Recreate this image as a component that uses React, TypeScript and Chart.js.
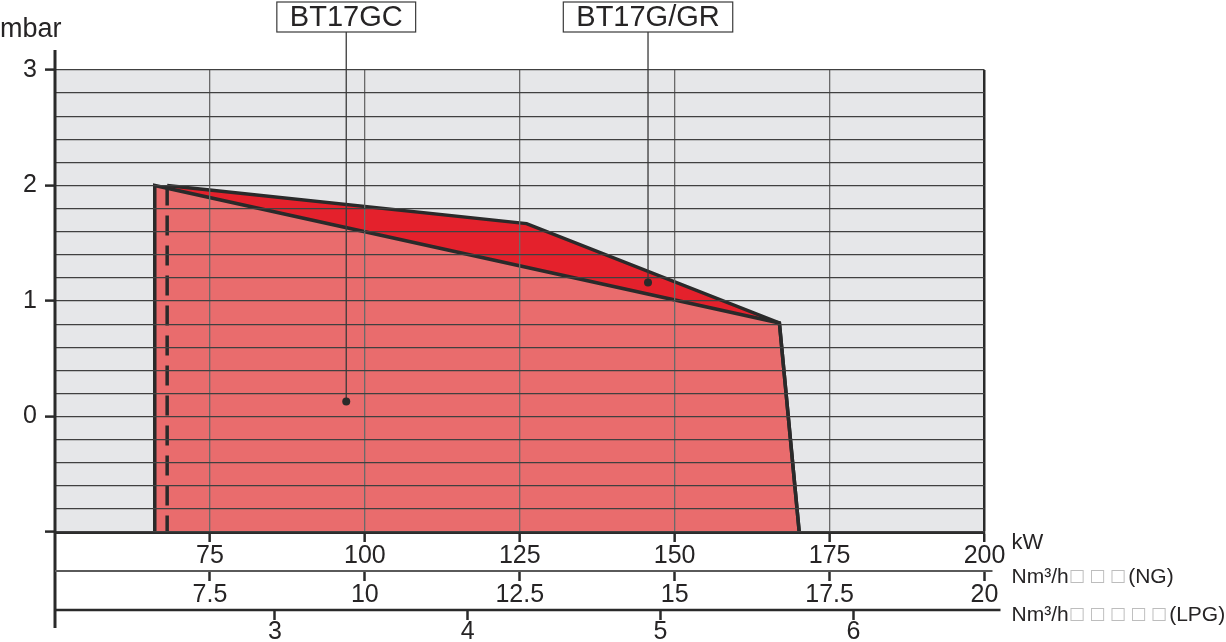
import React, { useEffect, useRef } from 'react';
import { Chart, registerables } from 'chart.js';

Chart.register(...registerables);

// kW axis (main x axis)
const KW_MIN = 50;
const KW_MAX = 200;
const KW_TICKS = [75, 100, 125, 150, 175, 200];

// Nm3/h natural gas axis
const NG_MIN = 5;
const NG_MAX = 20;
const NG_TICKS = [7.5, 10, 12.5, 15, 17.5, 20];

// Nm3/h LPG axis
const LPG_MIN = 1.86;
const LPG_MAX = 6.68;
const LPG_TICKS = [3, 4, 5, 6];

// mbar axis
const Y_MIN = -1;
const Y_MAX = 3;
const Y_STEP = 0.2;
const Y_LABELS = [0, 1, 2, 3];

// working field BT17GC (kW / mbar)
const GC_KW = [66.1, 66.1, 166.9, 170.1];
const GC_MBAR = [-1, 2.0, 0.81, -1];

// working field BT17G/GR (kW / mbar)
const GR_KW = [68.1, 126.1, 166.9, 170.1];
const GR_MBAR = [2.0, 1.67, 0.81, -1];
const GR_EDGE_KW = [68.1, 68.1];
const GR_EDGE_MBAR = [2.0, -1];

// callouts
const MODELS = ['BT17GC', 'BT17G/GR'];
const MODEL_KW = [97.0, 145.7];
const MODEL_MBAR = [0.13, 1.16];

const FONT = '"Liberation Sans", Arial, sans-serif';
const INK = '#262425';
const OUTLINE = '#2a2a2a';
const LIGHT_RED = '#e96c6d';
const DARK_RED = '#e4212c';
const PLOT_BG = '#e6e7e9';

const toPoints = (xs: number[], ys: number[]) => xs.map((x, i) => ({ x, y: ys[i] }));

const extras = {
  id: 'extras',
  beforeDraw(chart: any) {
    const { ctx, chartArea: a } = chart;
    ctx.save();
    ctx.fillStyle = PLOT_BG;
    ctx.fillRect(a.left, a.top, a.right - a.left, a.bottom - a.top);
    ctx.restore();
  },
  afterDraw(chart: any) {
    const { ctx, chartArea: a, scales } = chart;
    const { x, y, ng, lpg } = scales;
    const line = (x1: number, y1: number, x2: number, y2: number) => {
      ctx.beginPath();
      ctx.moveTo(x1, y1);
      ctx.lineTo(x2, y2);
      ctx.stroke();
    };
    ctx.save();

    // axis lines
    ctx.strokeStyle = OUTLINE;
    ctx.lineWidth = 3;
    line(a.left, a.top - 20, a.left, lpg.top + 18);
    ctx.strokeStyle = '#5a5a5a';
    ctx.lineWidth = 2;
    line(a.left, ng.top, a.right + 8, ng.top);
    ctx.strokeStyle = OUTLINE;
    ctx.lineWidth = 2.4;
    line(a.left, lpg.top, a.right + 16, lpg.top);

    // unit labels
    ctx.fillStyle = INK;
    ctx.textBaseline = 'middle';
    ctx.textAlign = 'left';
    ctx.font = `27px ${FONT}`;
    ctx.fillText('mbar', 0, 30);

    const ux = a.right + 27;
    ctx.font = `22px ${FONT}`;
    ctx.fillText('kW', ux, x.top + 11);

    const unitRow = (yy: number, boxes: number, tail: string) => {
      ctx.font = `21px ${FONT}`;
      ctx.fillStyle = INK;
      ctx.fillText('Nm³/h', ux, yy);
      const bx = ux + ctx.measureText('Nm³/h').width;
      ctx.font = `17px "DejaVu Sans"`;
      ctx.fillStyle = '#bdbdbd';
      for (let i = 0; i < boxes; i++) ctx.fillText('□', bx + i * 20.5, yy);
      ctx.font = `21px ${FONT}`;
      ctx.fillStyle = INK;
      ctx.fillText(tail, bx + boxes * 20.5 - 2, yy);
    };
    unitRow(ng.top + 6, 3, '(NG)');
    unitRow(lpg.top + 5, 5, '(LPG)');

    // callouts
    MODELS.forEach((name, i) => {
      const px = x.getPixelForValue(MODEL_KW[i]);
      const py = y.getPixelForValue(MODEL_MBAR[i]);
      ctx.font = `29px ${FONT}`;
      const w = ctx.measureText(name).width + 26;
      const top = 2;
      const h = 30;
      ctx.strokeStyle = '#3a3a3a';
      ctx.lineWidth = 1.2;
      ctx.fillStyle = '#ffffff';
      ctx.fillRect(px - w / 2, top, w, h);
      ctx.strokeRect(px - w / 2, top, w, h);
      ctx.lineWidth = 1.3;
      line(px, top + h, px, py);
      ctx.fillStyle = OUTLINE;
      ctx.beginPath();
      ctx.arc(px, py, 4, 0, Math.PI * 2);
      ctx.fill();
      ctx.fillStyle = INK;
      ctx.textAlign = 'center';
      ctx.fillText(name, px, top + h / 2 + 1);
    });

    ctx.restore();
  },
};

const tickFont = { family: FONT, size: 25, lineHeight: 1 };

const App: React.FC = () => {
  const canvasRef = useRef<HTMLCanvasElement>(null);
  const chartRef = useRef<Chart | null>(null);

  useEffect(() => {
    if (!canvasRef.current) return;
    if (chartRef.current) chartRef.current.destroy();

    const isLabel = (v: number) => Y_LABELS.includes(Math.round(v * 1000) / 1000);
    const isWhole = (v: number) => Math.abs(v - Math.round(v)) < 1e-6;

    chartRef.current = new Chart(canvasRef.current, {
      type: 'line',
      data: {
        datasets: [
          {
            label: 'edge',
            data: toPoints(GR_EDGE_KW, GR_EDGE_MBAR),
            borderColor: OUTLINE,
            borderWidth: 3.5,
            borderDash: [20, 10],
            pointRadius: 0,
            fill: false,
          },
          {
            label: 'BT17GC',
            data: toPoints(GC_KW, GC_MBAR),
            borderColor: OUTLINE,
            borderWidth: 3.5,
            backgroundColor: LIGHT_RED,
            pointRadius: 0,
            fill: 'start',
          },
          {
            label: 'BT17G/GR',
            data: toPoints(GR_KW, GR_MBAR),
            borderColor: OUTLINE,
            borderWidth: 3.5,
            backgroundColor: DARK_RED,
            pointRadius: 0,
            fill: 'start',
          },
        ],
      },
      options: {
        animation: false,
        responsive: true,
        maintainAspectRatio: false,
        layout: { padding: { top: 70, right: 241.5, left: 0, bottom: 0 } },
        plugins: {
          legend: { display: false },
          tooltip: { enabled: false },
          filler: { drawTime: 'beforeDatasetsDraw' },
        },
        scales: {
          x: {
            type: 'linear',
            position: 'bottom',
            weight: 1,
            min: KW_MIN,
            max: KW_MAX,
            afterBuildTicks: (s: any) => { s.ticks = KW_TICKS.map(v => ({ value: v })); },
            afterFit: (s: any) => { s.height = 39; },
            grid: {
              z: 1,
              color: (c: any) => (c.tick && c.tick.value === KW_MAX ? OUTLINE : '#6a6a6a'),
              lineWidth: (c: any) => (c.tick && c.tick.value === KW_MAX ? 2.5 : 1.3),
              tickLength: 10,
              tickWidth: 2.5,
              tickColor: OUTLINE,
            },
            border: { display: true, color: OUTLINE, width: 3, z: 1 },
            ticks: { autoSkip: false, maxRotation: 0, padding: 2, color: INK, font: tickFont, callback: (v: any) => String(v) },
          },
          ng: {
            type: 'linear',
            axis: 'x',
            position: 'bottom',
            weight: 2,
            min: NG_MIN,
            max: NG_MAX,
            afterBuildTicks: (s: any) => { s.ticks = NG_TICKS.map(v => ({ value: v })); },
            afterFit: (s: any) => { s.height = 39; },
            grid: { drawOnChartArea: false, tickLength: 10, tickWidth: 2.5, tickColor: OUTLINE },
            border: { display: false },
            ticks: { autoSkip: false, maxRotation: 0, padding: 2, color: INK, font: tickFont, callback: (v: any) => String(v) },
          },
          lpg: {
            type: 'linear',
            axis: 'x',
            position: 'bottom',
            weight: 3,
            min: LPG_MIN,
            max: LPG_MAX,
            afterBuildTicks: (s: any) => { s.ticks = LPG_TICKS.map(v => ({ value: v })); },
            afterFit: (s: any) => { s.height = 32; },
            grid: { drawOnChartArea: false, tickLength: 10, tickWidth: 2.5, tickColor: OUTLINE },
            border: { display: false },
            ticks: { autoSkip: false, maxRotation: 0, padding: 0, color: INK, font: tickFont, callback: (v: any) => String(v) },
          },
          y: {
            type: 'linear',
            position: 'left',
            min: Y_MIN,
            max: Y_MAX,
            afterBuildTicks: (s: any) => {
              const n = Math.round((Y_MAX - Y_MIN) / Y_STEP);
              s.ticks = Array.from({ length: n + 1 }, (_, i) => ({ value: Y_MIN + i * Y_STEP }));
            },
            afterFit: (s: any) => { s.width = 55; },
            grid: {
              z: 1,
              color: '#404040',
              lineWidth: 1.2,
              tickLength: 10,
              tickWidth: 2.5,
              tickColor: (c: any) => (c.tick && isWhole(c.tick.value) ? OUTLINE : 'rgba(0,0,0,0)'),
            },
            border: { display: false },
            ticks: {
              autoSkip: false,
              padding: 8,
              color: INK,
              font: tickFont,
              callback: (v: any) => (isLabel(Number(v)) ? String(Math.round(Number(v))) : ''),
            },
          },
        },
      } as any,
      plugins: [extras],
    });

    return () => {
      if (chartRef.current) {
        chartRef.current.destroy();
        chartRef.current = null;
      }
    };
  }, []);

  return (
    <div style={{ position: 'absolute', left: 0, top: 0, width: 1226, height: 642, background: '#ffffff' }}>
      <canvas ref={canvasRef} />
    </div>
  );
};

export default App;
